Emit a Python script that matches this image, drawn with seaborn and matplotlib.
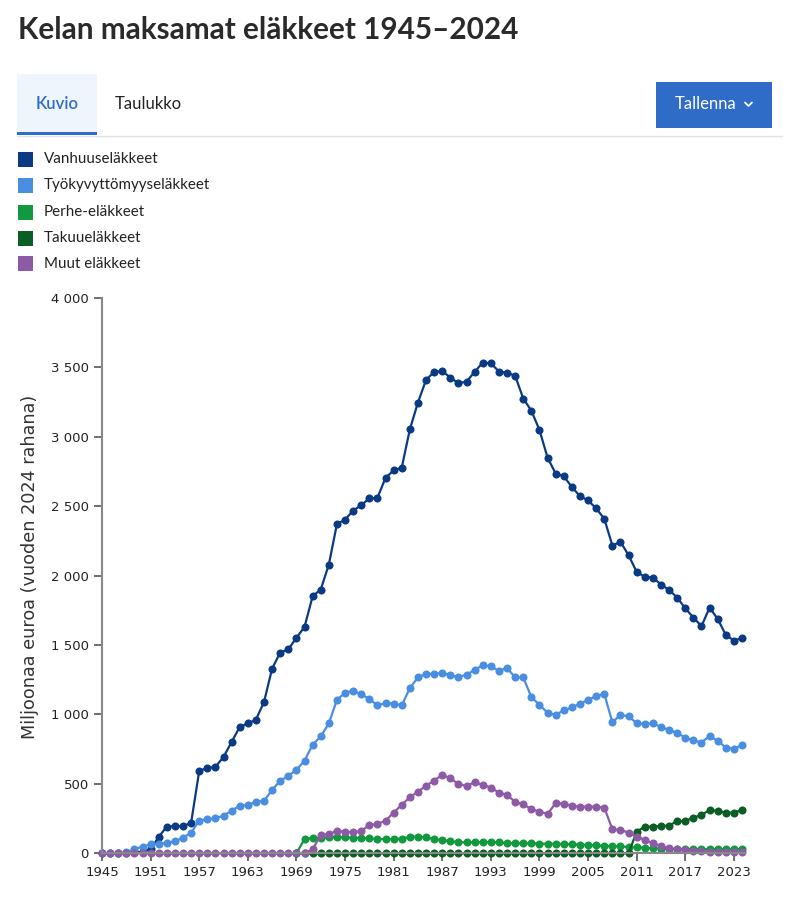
import pandas as pd
import matplotlib
matplotlib.use("Agg")
import matplotlib.pyplot as plt
from matplotlib.patches import Rectangle
from matplotlib.lines import Line2D
import seaborn as sns

years = list(range(1945, 2025))
years_from_1969 = list(range(1969, 2025))

vanhuus = [0, 0, 0, 3, 6, 12, 29, 118, 193, 195,
           195, 220, 593, 615, 622, 694, 802, 910, 935, 963,
           1090, 1331, 1446, 1470, 1552, 1631, 1852, 1900, 2080, 2372,
           2403, 2468, 2508, 2556, 2561, 2705, 2758, 2778, 3054, 3247,
           3410, 3468, 3473, 3427, 3386, 3398, 3468, 3535, 3530, 3470,
           3463, 3439, 3276, 3188, 3049, 2850, 2735, 2717, 2638, 2573,
           2542, 2484, 2410, 2217, 2244, 2147, 2027, 1991, 1986, 1936,
           1897, 1842, 1765, 1698, 1636, 1770, 1688, 1573, 1532, 1551]

tyokyvyttomyys = [0, 0, 0, 8, 30, 48, 65, 68, 76, 86,
                  113, 147, 236, 245, 252, 271, 307, 343, 348, 370,
                  377, 457, 522, 558, 601, 667, 782, 842, 935, 1106,
                  1155, 1172, 1144, 1113, 1065, 1082, 1079, 1065, 1190, 1267,
                  1294, 1291, 1301, 1281, 1270, 1286, 1322, 1354, 1346, 1315,
                  1335, 1267, 1267, 1125, 1070, 1012, 998, 1029, 1051, 1077,
                  1106, 1130, 1149, 943, 998, 986, 938, 931, 938, 909,
                  890, 866, 834, 813, 798, 846, 810, 762, 752, 781]

# perhe- ja takuueläkkeet alkavat 1969
perhe = [0, 103, 110, 112, 115, 118, 115, 112, 110, 108, 104,
         102, 102, 106, 118, 120, 115, 103, 94, 87, 80,
         78, 79, 80, 80, 78, 74, 72, 72, 72, 69,
         69, 69, 67, 67, 61, 61, 57, 53, 53, 50,
         45, 43, 40, 36, 34, 31, 31, 31, 31, 31,
         29, 29, 29, 29, 31]

takuu = [0] * 42 + [156, 192, 192, 197, 199, 233, 233, 257, 276, 312, 305, 293, 293, 312]

muut = [0] * 26 + [29, 132, 139, 161, 156, 151, 161, 204, 211,
                   235, 293, 349, 404, 444, 486, 524, 565, 541, 498,
                   486, 512, 493, 473, 437, 421, 370, 353, 317, 300,
                   284, 361, 356, 344, 336, 336, 336, 329, 173, 168,
                   149, 120, 96, 72, 53, 36, 29, 24, 19, 17,
                   12, 12, 9, 9, 10]

names = ['Vanhuuseläkkeet', 'Työkyvyttömyyseläkkeet', 'Perhe-eläkkeet', 'Takuueläkkeet', 'Muut eläkkeet']
colors = ['#0b3a84', '#4a8ee2', '#12993f', '#0b5e23', '#8d5ba6']
xticks = list(range(1945, 2024, 6))
yticks = [0, 500, 1000, 1500, 2000, 2500, 3000, 3500, 4000]

frames = []
for name, xs, vals in [(names[0], years, vanhuus), (names[1], years, tyokyvyttomyys),
                       (names[2], years_from_1969, perhe), (names[3], years_from_1969, takuu),
                       (names[4], years, muut)]:
    frames.append(pd.DataFrame({'vuosi': xs, 'arvo': vals, 'sarja': name}))
df = pd.concat(frames, ignore_index=True)

sns.set_style('ticks')
plt.rcParams['font.family'] = ['DejaVu Sans']

W, H = 792, 906
fig = plt.figure(figsize=(W / 100, H / 100), dpi=100)


def fx(px):
    return px / W


def fy(py):
    return 1 - py / H


ax = fig.add_axes([fx(102), fy(853.3), (742 - 102) / W, (853.3 - 298) / H])
sns.lineplot(data=df, x='vuosi', y='arvo', hue='sarja', hue_order=names,
             palette=dict(zip(names, colors)), marker='o', markersize=5.8,
             markeredgewidth=0, linewidth=1.6, errorbar=None, legend=False,
             clip_on=False, ax=ax)

ax.set_xlim(1945, 2024)
ax.set_ylim(0, 4000)
ax.set_xticks(xticks)
ax.set_xticklabels([str(v) for v in xticks])
ax.set_yticks(yticks)
ax.set_yticklabels([f'{v:,}'.replace(',', ' ') for v in yticks])
ax.set_xlabel('')
ax.set_ylabel('')
ax.tick_params(axis='both', labelsize=9.5, colors='#555555', labelcolor='#222222',
               length=6, width=1.2, direction='out')
sns.despine(ax=ax)
for s in ['left', 'bottom']:
    ax.spines[s].set_color('#888888')
    ax.spines[s].set_linewidth(1.5)
ax.spines['bottom'].set_bounds(1945, 2024.4)

fig.text(fx(30), fy(567), 'Miljoonaa euroa (vuoden 2024 rahana)', rotation=90,
         ha='center', va='center', fontsize=12.7, color='#333333')

# otsikko
fig.text(fx(18), fy(30), 'Kelan maksamat eläkkeet 1945–2024', ha='left', va='center',
         fontsize=21.4, fontweight='bold', color='#2a2a2a', family='Lato')

# välilehdet
fig.add_artist(Rectangle((fx(17), fy(133)), (97 - 17) / W, (133 - 74) / H,
                         transform=fig.transFigure, facecolor='#eef5fd', edgecolor='none'))
fig.add_artist(Rectangle((fx(17), fy(135)), (97 - 17) / W, 3 / H,
                         transform=fig.transFigure, facecolor='#2f6cc7', edgecolor='none'))
fig.add_artist(Line2D([fx(17), fx(782)], [fy(136.5), fy(136.5)], transform=fig.transFigure,
                      color='#e2e2e2', linewidth=1))
fig.text(fx(57), fy(104), 'Kuvio', ha='center', va='center', fontsize=12,
         fontweight='semibold', color='#2f6cc7', family='Lato')
fig.text(fx(115), fy(104), 'Taulukko', ha='left', va='center', fontsize=12,
         color='#222222', family='Lato')
fig.add_artist(Rectangle((fx(656), fy(128)), (772 - 656) / W, (128 - 82) / H,
                         transform=fig.transFigure, facecolor='#2f6cc7', edgecolor='none'))
fig.text(fx(706), fy(104), 'Tallenna', ha='center', va='center', fontsize=12,
         color='white', family='Lato')
fig.add_artist(Line2D([fx(745), fx(748.5), fx(752)], [fy(102.5), fy(106), fy(102.5)],
                      transform=fig.transFigure, color='white', linewidth=1.3))

# selite
rows = [159, 185, 212, 238, 264]
for name, color, ry in zip(names, colors, rows):
    fig.add_artist(Rectangle((fx(18), fy(ry + 7.5)), 15 / W, 15 / H,
                             transform=fig.transFigure, facecolor=color, edgecolor='none'))
    fig.text(fx(44), fy(ry), name, ha='left', va='center', fontsize=10.9,
             color='#222222', family='Lato')

fig.savefig('out.png', dpi=100)
